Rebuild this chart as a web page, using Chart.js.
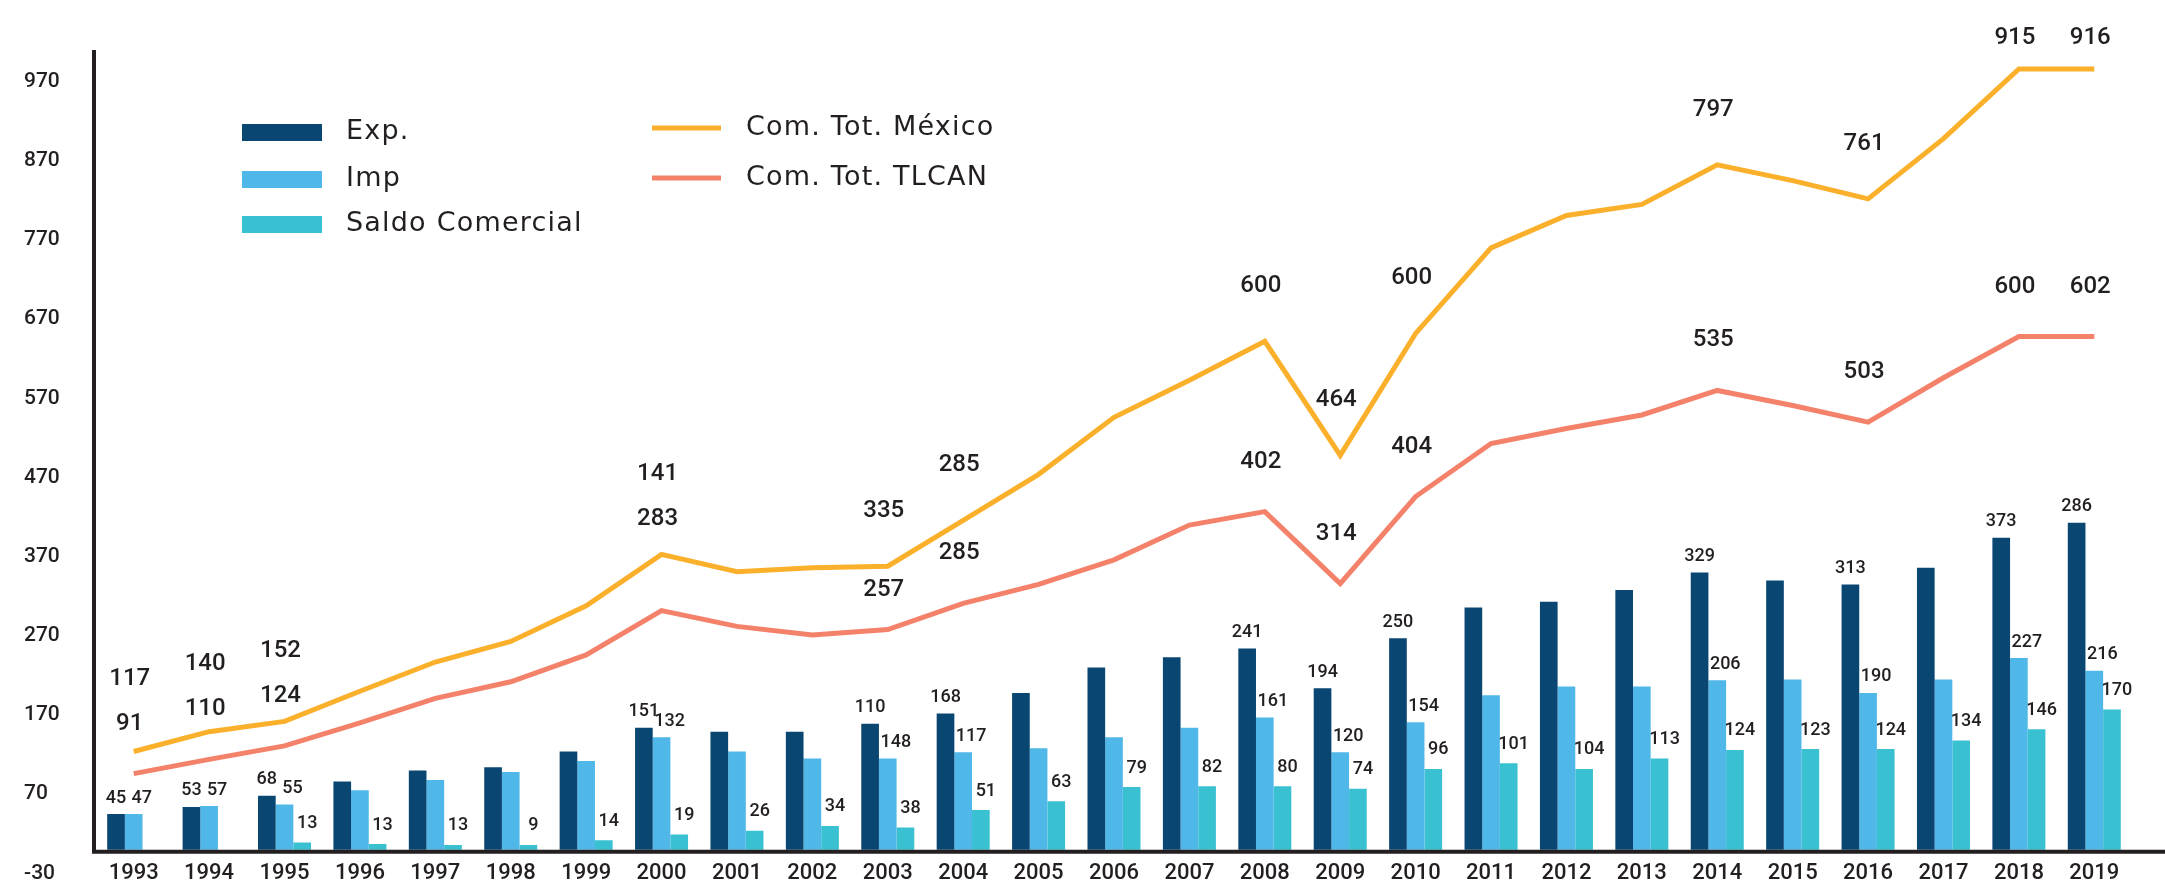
<!DOCTYPE html>
<html>
<head>
<meta charset="utf-8">
<title>Comercio México - TLCAN 1993-2019</title>
<script src="https://cdn.jsdelivr.net/npm/chart.js@4.4.1/dist/chart.umd.min.js"></script>
<style>
  html, body { margin: 0; padding: 0; background: #ffffff; }
  #wrap { width: 2165px; height: 886px; position: relative; }
</style>
</head>
<body>
<div id="wrap"><canvas id="tradeChart"></canvas></div>
<script>
// categories
const years = ["1993", "1994", "1995", "1996", "1997", "1998", "1999", "2000", "2001", "2002",
  "2003", "2004", "2005", "2006", "2007", "2008", "2009", "2010", "2011", "2012",
  "2013", "2014", "2015", "2016", "2017", "2018", "2019"];

// bar heights as drawn in the picture
const expValues = [45, 54, 68, 86, 100, 104, 124, 154, 149, 149, 159, 172, 198, 230, 243, 254, 204,
  267, 306, 313, 328, 350, 340, 335, 356, 394, 413];
const impValues = [45, 55, 57, 75, 88, 98, 112, 142, 124, 115, 115, 123, 128, 142, 154, 167, 123,
  161, 195, 206, 206, 214, 215, 198, 215, 242, 226];
const saldoValues = [null, null, 9, 7, 6, 6, 12, 19, 24, 30, 28, 50, 61, 79, 80, 80, 77,
  102, 109, 102, 115, 126, 127, 127, 138, 152, 177];

// lines
const mexicoTotal = [124, 149, 162, 200, 237, 263, 308, 373, 351, 356, 358, 416, 474, 546, 593, 642, 498,
  652, 760, 801, 815, 865, 845, 822, 898, 986, 986];
const tlcanTotal = [96, 114, 131, 160, 191, 212, 246, 302, 282, 271, 278, 311, 335, 366, 410, 427, 336,
  446, 513, 532, 549, 580, 561, 540, 596, 648, 648];

// printed value labels (as written on the original)
const expLabels = [45, 53, 68, null, null, null, null, 151, null, null, 110, 168, null, null, null, 241, 194,
  250, null, null, null, 329, null, 313, null, 373, 286];
const impLabels = [47, 57, 55, null, null, null, null, 132, null, null, 148, 117, null, null, null, 161, 120,
  154, null, null, null, 206, null, 190, null, 227, 216];
const saldoLabels = [null, null, 13, 13, 13, 9, 14, 19, 26, 34, 38, 51, 63, 79, 82, 80, 74,
  96, 101, 104, 113, 124, 123, 124, 134, 146, 170];
const mexicoLabels = [117, 140, 152, null, null, null, null, 141, null, null, 335, 285, null, null, null, 600, 464,
  600, null, null, null, 797, null, 761, null, 915, 916];
const tlcanLabels = [91, 110, 124, null, null, null, null, 283, null, null, 257, 285, null, null, null, 402, 314,
  404, null, null, null, 535, null, 503, null, 600, 602];

// y axis tick labels
const yTicks = [-30, 70, 170, 270, 370, 470, 570, 670, 770, 870, 970];

const INK = "#231f20";
const NUM_FONT = "Roboto";

const barLabelSets = [expLabels, impLabels, saldoLabels];
const barLabelShift = [0, 8, 5];   // small nudge right, per series
const barLabelLift = [16, 16, 19];

const annotationsPlugin = {
  id: "annotations",
  afterDatasetsDraw(chart) {
    const { ctx, chartArea } = chart;
    const x = chart.scales.x;
    const y = chart.scales.y;
    const zeroY = y.getPixelForValue(0);
    ctx.save();

    // axis lines
    ctx.strokeStyle = INK;
    ctx.lineWidth = 4;
    ctx.beginPath();
    ctx.moveTo(chartArea.left - 2, chartArea.top);
    ctx.lineTo(chartArea.left - 2, zeroY + 4);
    ctx.moveTo(chartArea.left - 4, zeroY + 2);
    ctx.lineTo(chart.width, zeroY + 2);
    ctx.stroke();

    ctx.fillStyle = INK;
    ctx.textAlign = "center";
    ctx.textBaseline = "middle";

    // years along the bottom, on the -30 row
    ctx.font = "500 22px " + NUM_FONT;
    const rowY = y.getPixelForValue(yTicks[0]);
    years.forEach((yr, i) => {
      ctx.fillText(yr, x.getPixelForValue(i), rowY);
    });

    // bar labels
    ctx.font = "500 18px " + NUM_FONT;
    barLabelSets.forEach((labels, di) => {
      const meta = chart.getDatasetMeta(di);
      labels.forEach((txt, i) => {
        if (txt == null) return;
        const el = meta.data[i];
        ctx.fillText(String(txt), el.x + barLabelShift[di], el.y - barLabelLift[di]);
      });
    });

    // line labels: TLCAN first, then México stacked above it when they meet
    ctx.font = "500 24px " + NUM_FONT;
    const mex = chart.getDatasetMeta(3).data;
    const tlc = chart.getDatasetMeta(4).data;
    years.forEach((yr, i) => {
      const yel = mex[i];
      const red = tlc[i];
      let redY = red.y - 50;
      const gap = redY - yel.y;
      if (Math.abs(gap) < 10) redY = yel.y - 35;
      else if (gap > 0 && gap < 24) redY = yel.y + 24;
      let yelY = yel.y - 55;
      if (redY < yel.y) yelY = Math.min(yelY, redY - 45);
      yelY = Math.max(yelY, chartArea.top - 12);
      if (tlcanLabels[i] != null) ctx.fillText(String(tlcanLabels[i]), red.x - 4, redY);
      if (mexicoLabels[i] != null) ctx.fillText(String(mexicoLabels[i]), yel.x - 4, yelY);
    });

    // legend in two columns
    const ds = chart.data.datasets;
    ctx.font = "27px 'DejaVu Sans'";
    ctx.textAlign = "left";
    if ("letterSpacing" in ctx) ctx.letterSpacing = "1.2px";
    const barRows = [132, 179, 224];
    [0, 1, 2].forEach((di, r) => {
      ctx.fillStyle = ds[di].backgroundColor;
      ctx.fillRect(242, barRows[r] - 8, 80, 17);
      ctx.fillStyle = INK;
      ctx.fillText(ds[di].label, 346, barRows[r]);
    });
    const lineRows = [128, 178];
    [3, 4].forEach((di, r) => {
      ctx.strokeStyle = ds[di].borderColor;
      ctx.lineWidth = 5;
      ctx.beginPath();
      ctx.moveTo(652, lineRows[r]);
      ctx.lineTo(721, lineRows[r]);
      ctx.stroke();
      ctx.fillStyle = INK;
      ctx.fillText(ds[di].label, 746, lineRows[r]);
    });
    ctx.restore();
  }
};

const ctx = document.getElementById("tradeChart");
new Chart(ctx, {
  data: {
    labels: years,
    datasets: [
      { type: "bar", label: "Exp.", data: expValues, backgroundColor: "#0a4672", order: 2 },
      { type: "bar", label: "Imp", data: impValues, backgroundColor: "#4fb8e8", order: 2 },
      { type: "bar", label: "Saldo Comercial", data: saldoValues, backgroundColor: "#39c1d1", order: 2 },
      { type: "line", label: "Com. Tot. México", data: mexicoTotal, borderColor: "#fbb02c",
        borderWidth: 5, pointRadius: 0, tension: 0, fill: false, order: 1 },
      { type: "line", label: "Com. Tot. TLCAN", data: tlcanTotal, borderColor: "#f4826a",
        borderWidth: 5, pointRadius: 0, tension: 0, fill: false, order: 1 }
    ]
  },
  options: {
    responsive: true,
    maintainAspectRatio: false,
    animation: false,
    devicePixelRatio: 1,
    layout: { padding: { left: 24, right: 33, top: 50, bottom: 12 } },
    datasets: {
      bar: { categoryPercentage: 0.703, barPercentage: 1.0 }
    },
    plugins: {
      legend: { display: false },
      tooltip: { enabled: false }
    },
    scales: {
      x: {
        type: "category",
        display: false,
        offset: true,
        grid: { display: false }
      },
      y: {
        min: -30,
        max: 1010,
        position: "left",
        grid: { display: false, drawTicks: false },
        border: { display: false },
        afterBuildTicks(scale) {
          scale.ticks = yTicks.map((v) => ({ value: v }));
        },
        afterFit(scale) {
          scale.width = 72;
        },
        ticks: {
          crossAlign: "far",
          padding: 0,
          color: INK,
          font: { family: NUM_FONT, size: 21, weight: "500" },
          callback: (v) => String(v)
        }
      }
    }
  },
  plugins: [annotationsPlugin]
});
</script>
</body>
</html>
